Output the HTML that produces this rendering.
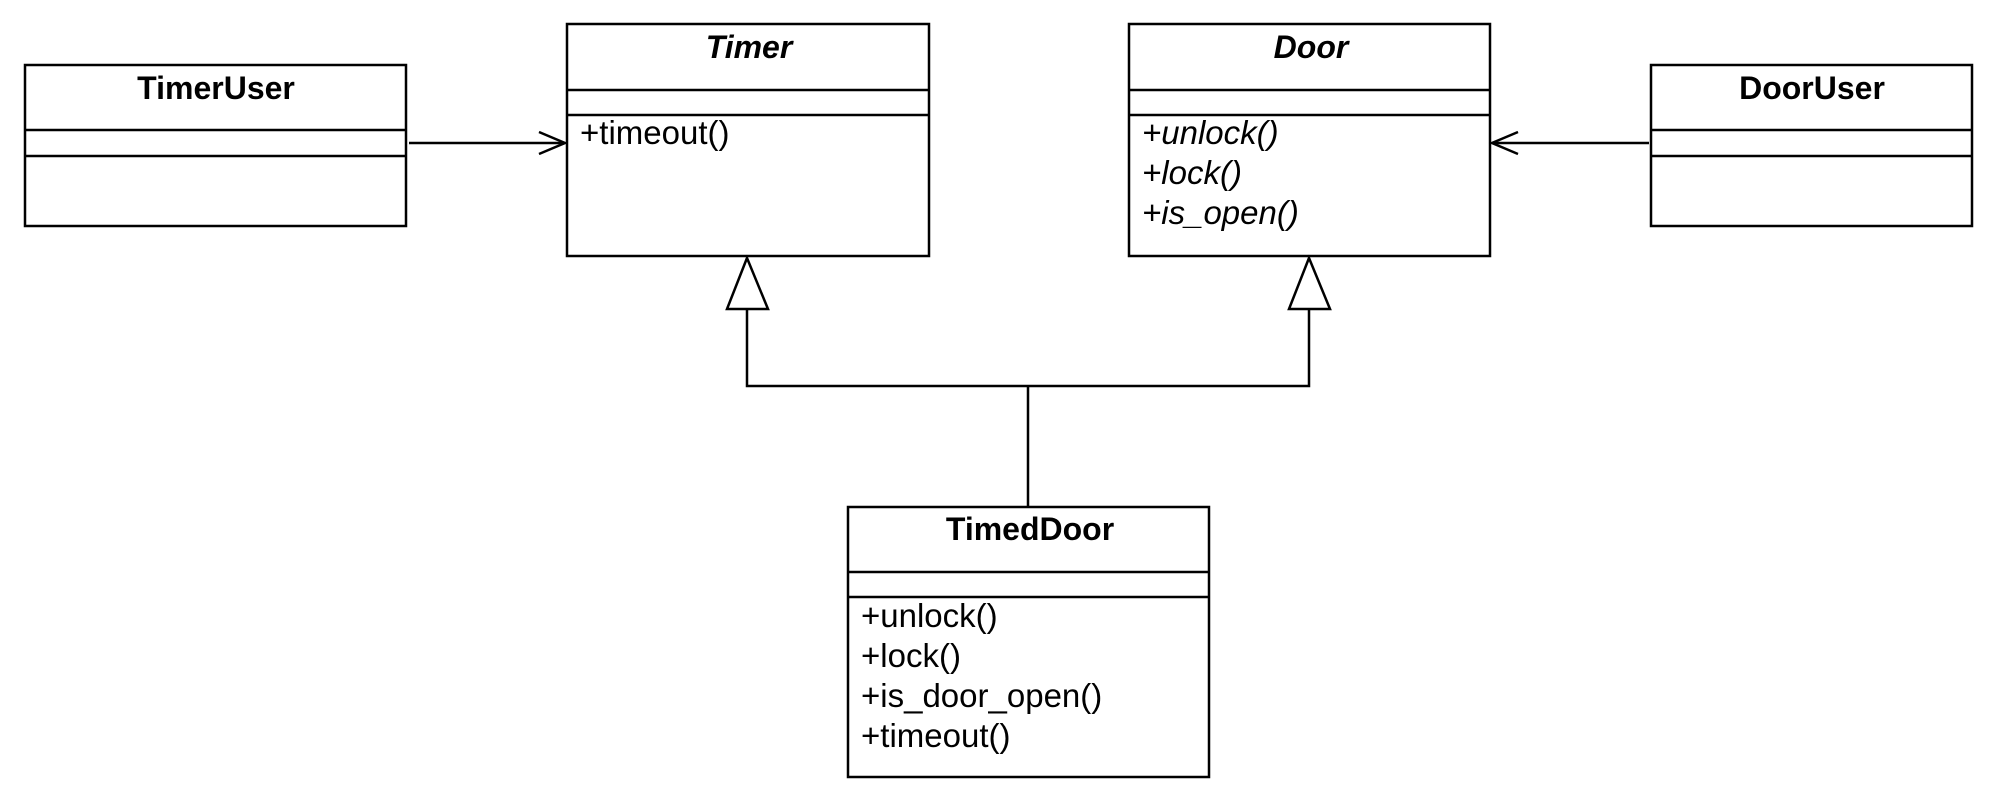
<!DOCTYPE html>
<html><head><meta charset="utf-8"><style>
html,body{margin:0;padding:0;background:#fff;}
svg text{font-family:"Liberation Sans",sans-serif;fill:#000;}
</style></head><body>
<svg width="2000" height="803" viewBox="0 0 2000 803" xmlns="http://www.w3.org/2000/svg">
<g fill="#fff" stroke="#000" stroke-width="2.5">
<rect x="25" y="65" width="381" height="161"/>
<line x1="25" y1="130" x2="406" y2="130"/><line x1="25" y1="156" x2="406" y2="156"/>
<rect x="567" y="24" width="362" height="232"/>
<line x1="567" y1="90" x2="929" y2="90"/><line x1="567" y1="115" x2="929" y2="115"/>
<rect x="1129" y="24" width="361" height="232"/>
<line x1="1129" y1="90" x2="1490" y2="90"/><line x1="1129" y1="115" x2="1490" y2="115"/>
<rect x="1651" y="65" width="321" height="161"/>
<line x1="1651" y1="130" x2="1972" y2="130"/><line x1="1651" y1="156" x2="1972" y2="156"/>
<rect x="848" y="507" width="361" height="270"/>
<line x1="848" y1="572" x2="1209" y2="572"/><line x1="848" y1="597" x2="1209" y2="597"/>
</g>
<g fill="none" stroke="#000" stroke-width="2.5">
<line x1="409" y1="143" x2="565" y2="143"/><polyline points="539,132 565,143 539,154"/>
<line x1="1492" y1="143" x2="1649" y2="143"/><polyline points="1518,132 1492,143 1518,154"/>
<polyline points="747,309 747,386 1309,386 1309,309"/>
<line x1="1028" y1="386" x2="1028" y2="506"/>
<polygon points="747,258 727,309 768,309" fill="#fff"/>
<polygon points="1309,258 1289,309 1330,309" fill="#fff"/>
</g>
<g font-size="32" font-weight="bold" text-anchor="middle">
<text x="216" y="99">TimerUser</text>
<text x="749" y="58" font-style="italic">Timer</text>
<text x="1311" y="58" font-style="italic">Door</text>
<text x="1812" y="99">DoorUser</text>
<text x="1030" y="540">TimedDoor</text>
</g>
<g font-size="33">
<text x="580" y="144">+timeout()</text>
<g font-style="italic">
<text x="1142" y="144">+unlock()</text>
<text x="1142" y="184">+lock()</text>
<text x="1142" y="224">+is_open()</text>
</g>
<text x="861" y="627">+unlock()</text>
<text x="861" y="667">+lock()</text>
<text x="861" y="707">+is_door_open()</text>
<text x="861" y="747">+timeout()</text>
</g>
</svg>
</body></html>
